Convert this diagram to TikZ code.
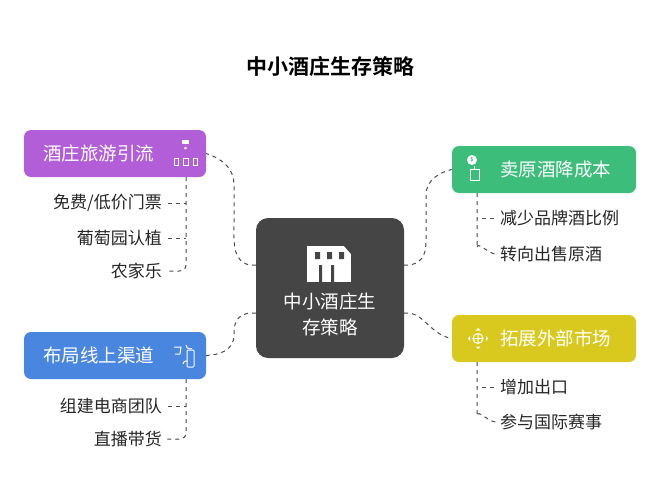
\documentclass[tikz,border=0pt]{standalone}
\usepackage{fontspec}
\setmainfont{Noto Sans CJK SC}
\newfontfamily\cjkb{Noto Sans CJK SC Bold}
\begin{document}
\begin{tikzpicture}[x=1pt,y=-1pt,
  box/.style={rounded corners=7pt,minimum height=47pt,inner sep=0pt},
  bt/.style={text=white,font=\fontsize{18.5}{20}\selectfont,anchor=west,inner sep=0pt},
  sub/.style={font=\fontsize{17}{20}\selectfont,text=black!85,inner sep=0pt},
  con/.style={line width=1pt,draw=black!70,dash pattern=on 4pt off 4pt}]
\useasboundingbox[fill=white] (0,0) rectangle (660,498);
\node[font=\cjkb\fontsize{21}{24}\selectfont] (title) at (330,66) {中小酒庄生存策略};
\node[fill=black!73,rounded corners=12pt,minimum width=148pt,minimum height=140pt] (c) at (330,288) {};
\node[text=white,align=center,font=\fontsize{18.5}{26}\selectfont] (ct) at (330,314) {中小酒庄生\\存策略};
% center icon
\fill[white] (307,246) rectangle (351,282);
\fill[black!73] (315,252) rectangle (320,259) (327,252) rectangle (332,259) (339,252) rectangle (344,259);
\fill[black!73] (319,265) rectangle (322,282) (331,265) rectangle (334,282);
\fill[black!73] (344,246) -- (351,246) -- (351,254) -- cycle;
% boxes
\node[box,fill={rgb,255:red,178;green,94;blue,216},minimum width=182pt] (p) at (115,153.5) {};
\node[bt] (pt) at (43,153.5) {酒庄旅游引流};
\node[box,fill={rgb,255:red,73;green,134;blue,224},minimum width=182pt] (b) at (115,355.5) {};
\node[bt] (bt) at (43,355.5) {布局线上渠道};
\node[box,fill={rgb,255:red,60;green,190;blue,122},minimum width=184pt] (g) at (544,169.5) {};
\node[bt] (gt) at (500,169.5) {卖原酒降成本};
\node[box,fill={rgb,255:red,217;green,201;blue,30},minimum width=184pt] (y) at (544,338.5) {};
\node[bt] (yt) at (500,338.5) {拓展外部市场};
% small icons
\begin{scope}[white,line width=1pt]
\fill (182,140) rectangle (189,144); \fill (185.5,148) circle (1.5);
\draw (174,158) rectangle (178,165) (183,158) rectangle (188,165) (193,158) rectangle (197,165);
\fill (472,160) circle (5);
\draw (474,166) -- (474,169) (470,169) rectangle (479,180);
\draw (174,347) -- (181,347) -- (180,354) -- (175,354) (186,345) arc (180:60:4) (183,364) arc (180:300:3);
\draw[rounded corners=1pt] (187,350) rectangle (194,367);
\draw (478,338.5) circle (5) (473,338.5) -- (483,338.5) (478,333.5) -- (478,343.5);
\fill (468,338.5) -- (470,336) -- (470,341) -- cycle (488,338.5) -- (486,336) -- (486,341) -- cycle
 (478,328) -- (475.5,330.5) -- (480.5,330.5) -- cycle (478,349) -- (475.5,346.5) -- (480.5,346.5) -- cycle;
\end{scope}
\node[font=\bfseries\tiny,text={rgb,255:red,60;green,190;blue,122},inner sep=0pt] (dol) at (472,160) {\$};
% sub items
\node[sub,anchor=east] (p1) at (162,203) {免费/低价门票};
\node[sub,anchor=east] (p2) at (162,238) {葡萄园认植};
\node[sub,anchor=east] (p3) at (162,271) {农家乐};
\node[sub,anchor=east] (b1) at (162,406) {组建电商团队};
\node[sub,anchor=east] (b2) at (162,439) {直播带货};
\node[sub,anchor=west] (g1) at (500,218) {减少品牌酒比例};
\node[sub,anchor=west] (g2) at (500,254) {转向出售原酒};
\node[sub,anchor=west] (y1) at (500,387) {增加出口};
\node[sub,anchor=west] (y2) at (500,422) {参与国际赛事};
% sub connectors
\draw[con] (186,177) -- (186,265) to[out=-90,in=0] ([xshift=4pt]p3.east);
\draw[con] ([xshift=6pt]p1.east) -- (186,203);
\draw[con] ([xshift=6pt]p2.east) -- (186,238);
\draw[con] (186,379) -- (186,433) to[out=-90,in=0] ([xshift=4pt]b2.east);
\draw[con] ([xshift=6pt]b1.east) -- (186,406);
\draw[con] (477,193) -- (477,248) to[out=90,in=180] ([xshift=-4pt]g2.west);
\draw[con] ([xshift=-6pt]g1.west) -- (477,218);
\draw[con] (477,362) -- (477,416) to[out=90,in=180] ([xshift=-4pt]y2.west);
\draw[con] ([xshift=-6pt]y1.west) -- (477,387);
% main connectors
\draw[con] (256,265) -- (250,265) .. controls (232,262) and (234,240) .. (234,225) -- (234,185) .. controls (234,170) and (225,160) .. (p.east);
\draw[con] (256,313) -- (250,313) .. controls (235,315) and (234,325) .. (234,335) .. controls (234,350) and (220,355) .. (b.east);
\draw[con] (404,265) -- (410,265) .. controls (425,262) and (426,250) .. (426,240) -- (426,195) .. controls (426,180) and (440,172) .. (g.west);
\draw[con] (404,313) -- (410,313) .. controls (425,316) and (432,335) .. (y.west);
\end{tikzpicture}
\end{document}
